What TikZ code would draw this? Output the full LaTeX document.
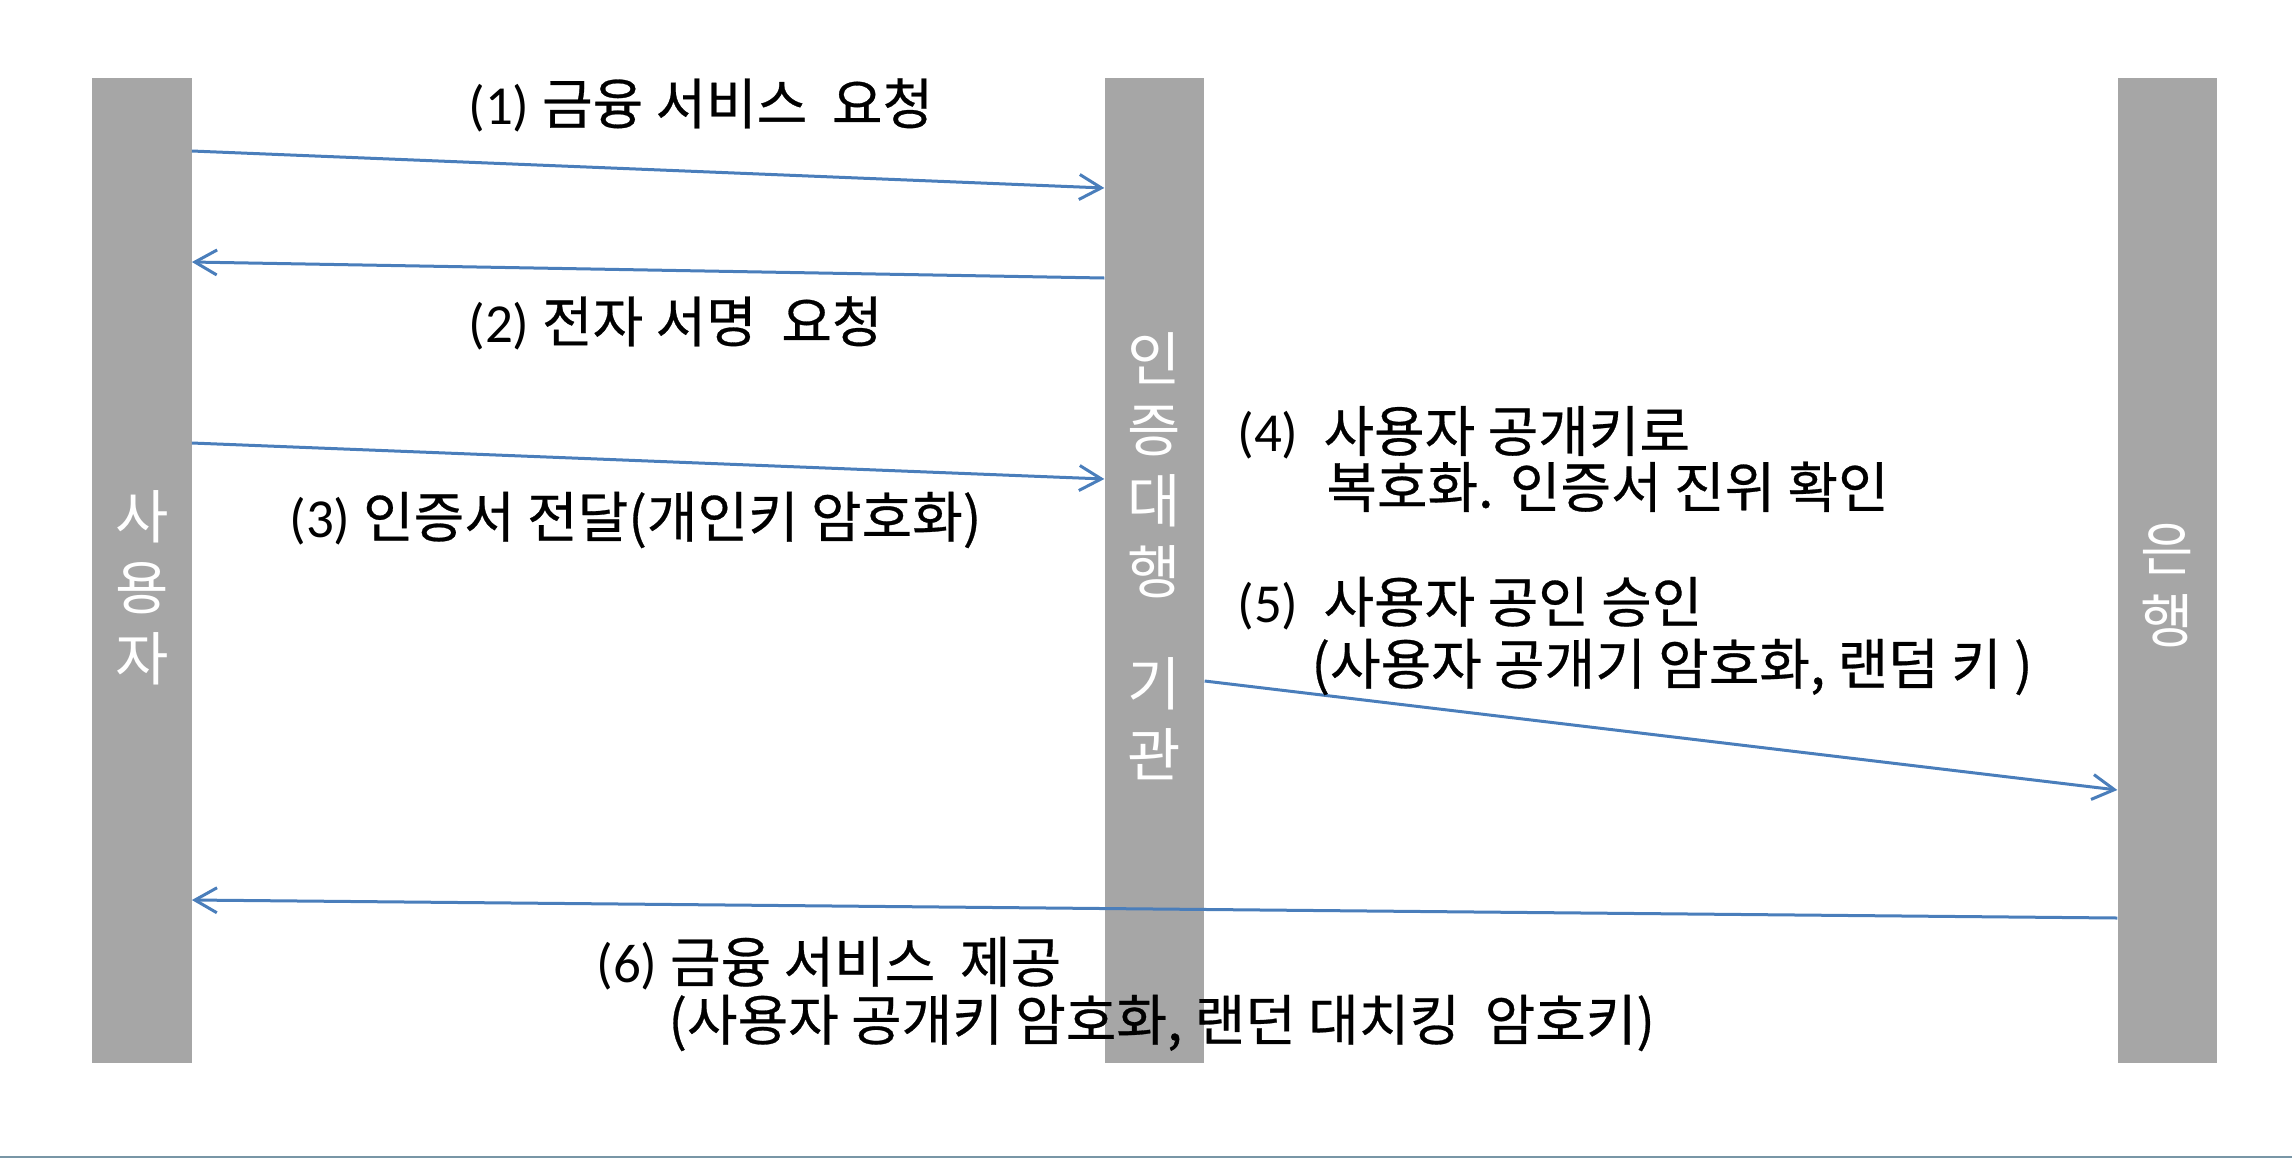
\documentclass[tikz,border=0pt]{standalone}
\usepackage{fontspec}
\setmainfont{Carlito}
\newfontfamily\kr{Noto Sans CJK KR}
\newfontfamily\krb[FakeBold=0.5]{Noto Sans CJK KR}
\usetikzlibrary{arrows.meta}
\definecolor{bargray}{HTML}{A6A6A6}
\definecolor{arrowblue}{HTML}{4A7EBB}
\definecolor{rulegray}{HTML}{7896A6}
\tikzset{
  bar/.style={fill=bargray, draw=none, minimum width=49.75pt, minimum height=492.5pt, inner sep=0pt},
  barlabel/.style={text=white, align=center, inner sep=0pt, font=\kr\fontsize{29}{35.5}\selectfont},
  msg/.style={draw=arrowblue, line width=1.5pt, -{Straight Barb[length=11pt,width=12.5pt,line width=1.5pt]}},
  lbl/.style={anchor=west, inner sep=0pt, align=left, font=\fontsize{27.5}{29}\selectfont}
}
\begin{document}
\begin{tikzpicture}[x=0.5pt,y=-0.5pt]
\useasboundingbox (0,0) rectangle (2292,1158);
\draw[rulegray, line width=1pt] (0,1157) -- (2292,1157);
% bars
\node[bar] (user) at (141.75,570) {};
\node[bar] (ca) at (1154.5,570) {};
\node[bar] (bank) at (2167.5,570) {};
% bar labels
\node[barlabel] (userlbl) at (141.75,588) {사\\용\\자};
\node[barlabel] (calbl) at (1154.5,556) {인\\증\\대\\행\\[20.5pt]기\\관};
\node[barlabel, font=\kr\fontsize{29}{36}\selectfont] (banklbl) at (2167.5,586) {은\\행};
% messages
\draw[msg] (user.east |- {(0,151)}) -- (ca.west |- {(0,188)});
\draw[msg] (ca.west |- {(0,278)}) -- (user.east |- {(0,262)});
\draw[msg] (user.east |- {(0,443)}) -- (ca.west |- {(0,479)});
\draw[msg] (ca.east |- {(0,681)}) -- (bank.west |- {(0,790)});
\draw[msg] (bank.west |- {(0,918)}) -- (user.east |- {(0,900)});
% labels
\node[lbl] (l1) at (468,105) {(1) {\krb 금융 서비스~ 요청}};
\node[lbl] (l2) at (468,323) {(2) {\krb 전자 서명~ 요청}};
\node[lbl] (l3) at (289,520) {(3) {\krb 인증서 전달(개인키 암호화)}};
\node[lbl, font=\fontsize{27.5}{28}\selectfont] (l4) at (1237,459) {(4)~ {\krb 사용자 공개키로}\\\hspace*{44.5pt}{\krb 복호화. 인증서 진위 확인}};
\node[lbl, font=\fontsize{27.5}{31}\selectfont] (l5) at (1237,636) {(5)~ {\krb 사용자 공인 승인}\\\hspace*{37pt}{\krb (사용자 공개기 암호화, 랜덤 키 )}};
\node[lbl] (l6) at (596,994) {(6) {\krb 금융 서비스~ 제공}\\\hspace*{36pt}{\krb (사용자 공개키 암호화, 랜던 대치킹~ 암호키)}};
\end{tikzpicture}
\end{document}
